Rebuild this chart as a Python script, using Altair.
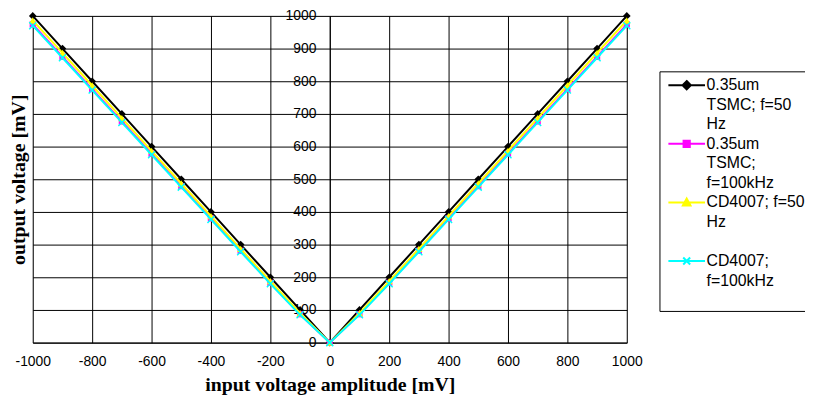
import altair as alt
import pandas as pd

# ---- data ----
x_vals = [-1000, -900, -800, -700, -600, -500, -400, -300, -200, -100, 0,
          100, 200, 300, 400, 500, 600, 700, 800, 900, 1000]
tsmc_50hz = [1000, 900, 800, 700, 600, 500, 400, 300, 200, 100, 0,
             100, 200, 300, 400, 500, 600, 700, 800, 900, 1000]
tsmc_100khz = [974, 875, 776, 677, 578, 479, 380, 281, 183, 87, 0,
               87, 183, 281, 380, 479, 578, 677, 776, 875, 974]
cd4007_50hz = [986, 887, 787, 687, 587, 487, 387, 287, 188, 90, 0,
               90, 188, 287, 387, 487, 587, 687, 787, 887, 986]
cd4007_100khz = [970, 872, 773, 674, 575, 476, 377, 278, 180, 85, 0,
                 85, 180, 278, 377, 476, 575, 674, 773, 872, 970]

series_names = ["0.35um|TSMC; f=50|Hz", "0.35um|TSMC;|f=100kHz",
                "CD4007; f=50|Hz|", "CD4007;|f=100kHz"]
series_values = [tsmc_50hz, tsmc_100khz, cd4007_50hz, cd4007_100khz]
series_colors = ["#000000", "#FF00FF", "#FFFF00", "#00FFFF"]
x_ticks = [-1000, -800, -600, -400, -200, 0, 200, 400, 600, 800, 1000]
y_ticks = [0, 100, 200, 300, 400, 500, 600, 700, 800, 900, 1000]

rows = []
for name, vals in zip(series_names, series_values):
    for xv, yv in zip(x_vals, vals):
        rows.append({"x": xv, "y": yv, "series": name})
df = pd.DataFrame(rows)

W, H = 600, 330

x_enc = alt.X(
    "x:Q",
    scale=alt.Scale(domain=[-1000, 1000], nice=False, zero=False),
    axis=alt.Axis(
        values=x_ticks, grid=True, gridColor="black", gridOpacity=1, gridWidth=1,
        domainColor="black", domainWidth=1, ticks=False, labelPadding=12,
        labelFlush=False, labelFont="Liberation Sans", labelFontSize=14,
        labelColor="black", labelExpr="'' + datum.value",
        title="input voltage amplitude [mV]", titleFont="Liberation Serif",
        titleFontSize=20, titleFontWeight="bold", titleColor="black",
        titleX=W / 2, titleY=42, titleAlign="center", titleBaseline="middle",
    ),
)
y_enc = alt.Y(
    "y:Q",
    scale=alt.Scale(domain=[0, 1000], nice=False),
    axis=alt.Axis(
        values=y_ticks, offset=-W / 2, grid=True, gridColor="black", gridOpacity=1,
        gridWidth=1, domainColor="black", domainWidth=1, ticks=False,
        labelPadding=14, labelFont="Liberation Sans", labelFontSize=14,
        labelColor="black", labelExpr="'' + datum.value",
        title="output voltage [mV]", titleFont="Liberation Serif",
        titleFontSize=20, titleFontWeight="bold", titleColor="black",
        titleAngle=270, titleX=-W / 2 - 14, titleY=H / 2,
        titleAlign="center", titleBaseline="middle",
    ),
)

marker_shapes = ["diamond", "square", "triangle-up", "M-1,-1L1,1M-1,1L1,-1"]
marker_sizes = [60, 40, 55, 50]
marker_filled = [True, True, True, False]

layers = []
for name, col, shp, sz, fl in zip(series_names, series_colors, marker_shapes,
                                  marker_sizes, marker_filled):
    base = alt.Chart(df).transform_filter(alt.datum.series == name)
    line = base.mark_line(strokeWidth=2, color=col).encode(x=x_enc, y=y_enc, order="x:Q")
    pts = base.mark_point(shape=shp, size=sz, filled=fl, opacity=1,
                          strokeWidth=1.5, color=col).encode(x=x_enc, y=y_enc)
    layers += [line, pts]

# legend symbols: line + marker; symbolSize 196 -> path unit = 7 px
legend_paths = [
    "M-2.64,0H2.64M0,-0.6L0.6,0L0,0.6L-0.6,0Z",
    "M-2.64,0H2.64M-0.45,-0.45H0.45V0.45H-0.45Z",
    "M-2.64,0H2.64M-0.55,0.45L0,-0.55L0.55,0.45Z",
    "M-2.64,0H2.64M-0.5,-0.5L0.5,0.5M-0.5,0.5L0.5,-0.5",
]

leg = alt.Legend(
    orient="none", legendX=633, legendY=56, title=" ", titleOrient="bottom",
    titleFontSize=8, titlePadding=9,
    labelExpr="split(datum.label, '|')",
    labelFont="Liberation Sans", labelFontSize=16, labelColor="black",
    labelBaseline="middle", labelLimit=400, labelOffset=12,
    symbolSize=196, symbolStrokeWidth=2, symbolOpacity=1, symbolOffset=13.5,
    strokeColor="black", fillColor="white", padding=6, rowPadding=3.2,
    cornerRadius=0,
)

legend_layer = alt.Chart(df).mark_point(filled=True, opacity=0).encode(
    x=x_enc, y=y_enc,
    color=alt.Color("series:N", scale=alt.Scale(domain=series_names, range=series_colors), legend=leg),
    stroke=alt.Stroke("series:N", scale=alt.Scale(domain=series_names, range=series_colors), legend=leg),
    shape=alt.Shape("series:N", scale=alt.Scale(domain=series_names, range=legend_paths), legend=leg),
)
layers.append(legend_layer)

chart = alt.layer(*layers).properties(
    width=W, height=H,
    autosize=alt.AutoSizeParams(type="none"),
    padding={"left": 25, "top": 6, "right": 180, "bottom": 58},
    background="white",
).configure_view(stroke="black", strokeWidth=1).configure(
    style={"guide-label": {"lineHeight": 19.8}}
)

chart.save("out.html", embed_options={"renderer": "svg", "actions": False})
